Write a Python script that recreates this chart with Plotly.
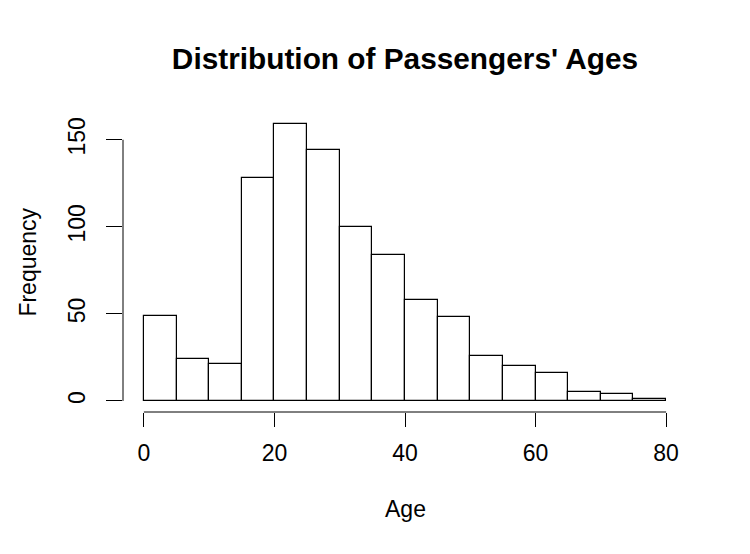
import plotly.graph_objects as go

# Histogram of passengers' ages (bins of width 5)
bin_starts = [0, 5, 10, 15, 20, 25, 30, 35, 40, 45, 50, 55, 60, 65, 70, 75]
bin_width = 5
counts = [49, 24, 21, 128, 159, 144, 100, 84, 58, 48, 26, 20, 16, 5, 4, 1]

x_ticks = [0, 20, 40, 60, 80]
y_ticks = [0, 50, 100, 150]

title_text = "Distribution of Passengers' Ages"
x_label = "Age"
y_label = "Frequency"

FONT = "Liberation Sans, Arial, Helvetica, sans-serif"

mids = [s + bin_width / 2 for s in bin_starts]

fig = go.Figure()
fig.add_trace(go.Bar(
    x=mids, y=counts, width=[bin_width] * len(mids),
    marker=dict(color="white", line=dict(color="black", width=1.2)),
    hoverinfo="x+y", showlegend=False,
))

# R-style axis extents (4% padding)
xmin, xmax = min(bin_starts), max(bin_starts) + bin_width
ymax = max(counts)
xpad = 0.04 * (xmax - xmin)
ypad = 0.04 * ymax

fig.update_layout(
    width=750, height=554,
    margin=dict(l=115, r=71, t=105, b=150),
    paper_bgcolor="white", plot_bgcolor="white",
    font=dict(family=FONT, size=23, color="black"),
    title=dict(text=f"<b>{title_text}</b>", x=0.5, xref="paper",
               y=1 - 51 / 554, yref="container", yanchor="middle",
               font=dict(family=FONT, size=29.8, color="black")),
    bargap=0,
    xaxis=dict(range=[xmin - xpad, xmax + xpad], tickvals=x_ticks,
               ticks="outside", ticklen=14, tickwidth=1, tickcolor="black",
               showgrid=False, zeroline=False, showline=False,
               ticklabelstandoff=6, tickfont=dict(size=23)),
    yaxis=dict(range=[-ypad, ymax + ypad], tickvals=y_ticks,
               ticks="outside", ticklen=16, tickwidth=1, tickcolor="black",
               showgrid=False, zeroline=False, showline=False,
               tickangle=-90, ticklabelstandoff=12, tickfont=dict(size=23)),
    annotations=[
        dict(text=x_label, xref="paper", yref="paper", x=0.5, y=-0.323,
             xanchor="center", yanchor="middle", showarrow=False,
             font=dict(size=23)),
        dict(text=y_label, xref="paper", yref="paper", x=-0.17, y=0.5,
             xanchor="center", yanchor="middle", textangle=-90,
             showarrow=False, font=dict(size=23)),
    ],
    shapes=[
        dict(type="line", xref="x", yref="paper", x0=x_ticks[0], x1=x_ticks[-1],
             y0=0, y1=0, line=dict(color="black", width=1)),
        dict(type="line", xref="paper", yref="y", x0=0, x1=0,
             y0=y_ticks[0], y1=y_ticks[-1], line=dict(color="black", width=1)),
    ],
)

fig.write_html("out.html")
